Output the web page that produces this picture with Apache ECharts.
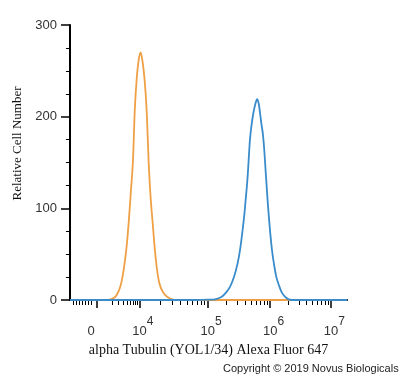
<!DOCTYPE html>
<html>
<head>
<meta charset="utf-8">
<script src="https://cdn.jsdelivr.net/npm/echarts@6/dist/echarts.min.js"></script>
<style>
  html, body { margin: 0; padding: 0; background: #fff; }
  #chart { width: 400px; height: 378px; }
</style>
</head>
<body>
<div id="chart"></div>
<script>
// x is in display channels (0-1000) of the biexponential fluorescence axis
const orangeX = [0, 108, 129, 143, 154, 165, 176, 183, 190, 197, 205, 212, 219, 227, 234, 241, 248, 255,
    262, 270, 277, 284, 291, 299, 306, 313, 320, 327, 335, 345, 356, 367, 382, 400, 1000];
const orangeY = [0, 0, 0, 0.5, 1.5, 4, 10, 16, 26, 40, 60, 85, 115, 150, 208, 242, 262, 270,
    260, 238, 205, 150, 112, 82, 56, 36, 22, 14, 9, 5, 2.5, 1, 0, 0, 0];

const blueX = [0, 450, 500, 523, 548, 563, 578, 592, 605, 614, 623, 630, 634, 638, 642, 646, 650, 655, 662, 670, 676,
    682, 686, 691, 696, 701, 706, 710, 714, 722, 729, 736, 745, 756, 765, 776, 787, 801, 1000];
const blueY = [0, 0, 0.3, 0.8, 3.6, 8, 14.6, 25, 40, 55, 76, 95, 109, 122, 138, 158, 176, 190, 204, 215, 219,
    213, 204, 192, 182, 165, 142, 124, 106, 76, 55, 40, 25, 14.6, 8, 3.6, 1, 0, 0];

// axis ticks and labels
const xLabelPos = [76, 250, 497, 722, 942];
const xLabelBase = ["0", "10", "10", "10", "10"];
const xLabelExp = ["", "4", "5", "6", "7"];
const xMajorTicks = [96, 250, 497, 722, 942];
const xLinearTicks = [11, 22, 32, 43, 54, 65, 76];
const decadePos = [108, 250, 497, 722, 942];
const yTicks = [0, 100, 200, 300];

const xMinorTicks = xLinearTicks.slice();
for (let i = 0; i < decadePos.length - 1; i++) {
    for (let k = 2; k <= 9; k++) {
        xMinorTicks.push(decadePos[i] + Math.log10(k) * (decadePos[i + 1] - decadePos[i]));
    }
}

const toPairs = (xs, ys) => xs.map((x, i) => [x, ys[i]]);

const chart = echarts.init(document.getElementById("chart"));
chart.setOption({
    animation: false,
    grid: { left: 70, right: 53, top: 25, bottom: 78 },
    xAxis: [
        {
            type: "value",
            min: 0,
            max: 1000,
            position: "bottom",
            name: "alpha Tubulin (YOL1/34) Alexa Fluor 647",
            nameLocation: "middle",
            nameGap: 41,
            nameTextStyle: { fontFamily: "Liberation Serif", fontSize: 14, color: "#111" },
            axisLine: { onZero: false, lineStyle: { color: "#000", width: 2 } },
            axisTick: { customValues: xMajorTicks, length: 8, lineStyle: { color: "#000", width: 1.5 } },
            splitLine: { show: false },
            axisLabel: {
                customValues: xLabelPos,
                margin: 16,
                formatter: (v) => {
                    const i = xLabelPos.indexOf(v);
                    if (i < 0) return "";
                    if (!xLabelExp[i]) return "{z|" + xLabelBase[i] + "}";
                    return "{b|" + xLabelBase[i] + "}{s|" + xLabelExp[i] + "}";
                },
                rich: {
                    z: { fontFamily: "Liberation Sans", fontSize: 13, color: "#333", padding: [9, 0, 0, 0], verticalAlign: "bottom" },
                    b: { fontFamily: "Liberation Sans", fontSize: 13, color: "#333", padding: [9, 0, 0, 7], verticalAlign: "bottom" },
                    s: { fontFamily: "Liberation Sans", fontSize: 12, color: "#333", verticalAlign: "top" },
                },
            },
        },
        {
            type: "value",
            min: 0,
            max: 1000,
            position: "bottom",
            axisLine: { show: false, onZero: false },
            axisTick: { customValues: xMinorTicks, length: 5, lineStyle: { color: "#000", width: 1 } },
            axisLabel: { show: false },
            splitLine: { show: false },
        },
    ],
    yAxis: {
        type: "value",
        min: 0,
        max: 300,
        interval: 100,
        name: "Relative Cell Number",
        nameLocation: "middle",
        nameGap: 46,
        nameTextStyle: { fontFamily: "Liberation Serif", fontSize: 13, color: "#111", padding: [0, 0, 0, 38] },
        axisLine: { show: true, lineStyle: { color: "#000", width: 2 } },
        axisTick: { show: true, length: 9, lineStyle: { color: "#000", width: 1.5 } },
        minorTick: { show: true, splitNumber: 4, length: 4, lineStyle: { color: "#000", width: 1 } },
        splitLine: { show: false },
        axisLabel: {
            customValues: yTicks,
            margin: 13,
            fontFamily: "Liberation Sans",
            fontSize: 13,
            color: "#333",
        },
    },
    series: [
        {
            name: "orange",
            type: "line",
            data: toPairs(orangeX, orangeY),
            showSymbol: false,
            smooth: 0.3,
            z: 2,
            lineStyle: { color: "#EFA046", width: 1.8 },
        },
        {
            name: "blue",
            type: "line",
            data: toPairs(blueX, blueY),
            showSymbol: false,
            smooth: 0.3,
            z: 3,
            lineStyle: { color: "#3A8CCB", width: 1.8 },
        },
    ],
    graphic: [
        {
            type: "text",
            left: 223,
            top: 363,
            style: {
                text: "Copyright © 2019 Novus Biologicals",
                fontFamily: "Liberation Sans",
                fontSize: 11,
                fill: "#222",
            },
        },
    ],
});
</script>
</body>
</html>
